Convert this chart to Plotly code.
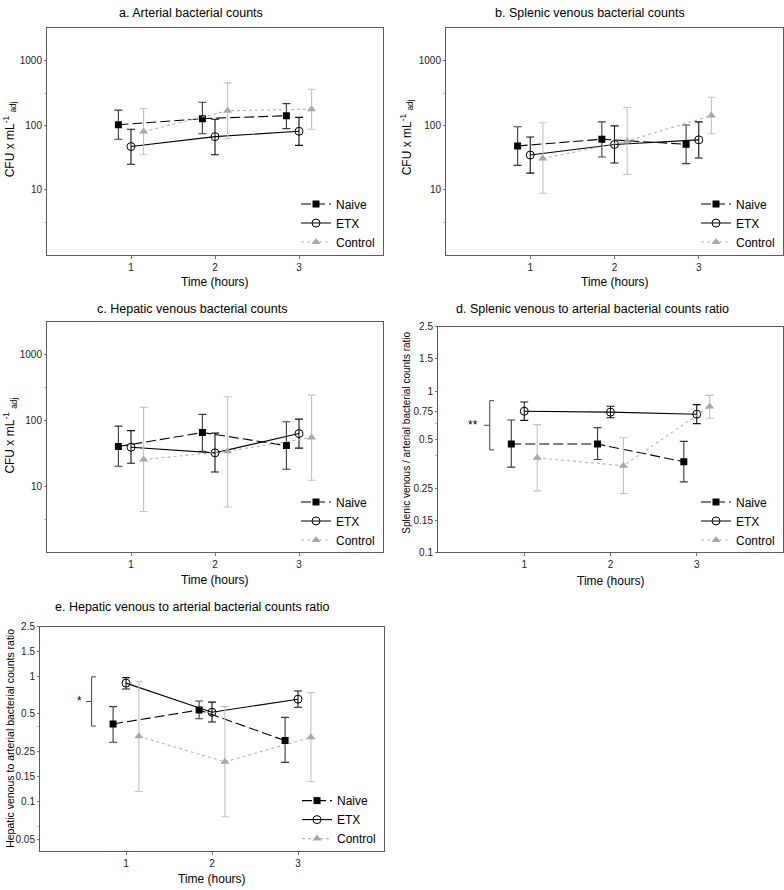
import math
import plotly.graph_objects as go

W, H = 784, 890

TIME = [1, 2, 3]
SERIES = ["Naive", "ETX", "Control"]

# a. Arterial bacterial counts (mean, upper, lower)
A_NAIVE = [102, 127, 141]
A_NAIVE_HI = [172, 228, 217]
A_NAIVE_LO = [61, 74, 89]
A_ETX = [47, 67, 81]
A_ETX_HI = [87, 124, 133]
A_ETX_LO = [25, 35, 49]
A_CTRL = [80, 168, 178]
A_CTRL_HI = [182, 455, 361]
A_CTRL_LO = [35, 62, 87]

# b. Splenic venous bacterial counts
B_NAIVE = [48, 61, 51]
B_NAIVE_HI = [95, 113, 101]
B_NAIVE_LO = [24, 32.4, 25.6]
B_ETX = [34.7, 50.6, 59.7]
B_ETX_HI = [66, 98, 113]
B_ETX_LO = [18.2, 26.2, 31.3]
B_CTRL = [30.6, 57, 142]
B_CTRL_HI = [110, 189, 272]
B_CTRL_LO = [8.9, 17.4, 74]

# c. Hepatic venous bacterial counts
C_NAIVE = [40.6, 66.4, 42]
C_NAIVE_HI = [83, 125, 96.6]
C_NAIVE_LO = [20.4, 34.5, 18.4]
C_ETX = [39.7, 32.6, 64]
C_ETX_HI = [71, 65, 106]
C_ETX_LO = [22.7, 16.7, 38.4]
C_CTRL = [25.8, 34.5, 55.7]
C_CTRL_HI = [160, 232, 245]
C_CTRL_LO = [4.2, 4.9, 12.5]

# d. Splenic venous to arterial ratio
D_NAIVE = [0.47, 0.47, 0.365]
D_NAIVE_HI = [0.662, 0.594, 0.488]
D_NAIVE_LO = [0.338, 0.377, 0.274]
D_ETX = [0.751, 0.741, 0.72]
D_ETX_HI = [0.857, 0.806, 0.825]
D_ETX_LO = [0.659, 0.684, 0.629]
D_CTRL = [0.386, 0.345, 0.802]
D_CTRL_HI = [0.62, 0.514, 0.941]
D_CTRL_LO = [0.241, 0.232, 0.68]

# e. Hepatic venous to arterial ratio
E_NAIVE = [0.416, 0.538, 0.306]
E_NAIVE_HI = [0.572, 0.634, 0.469]
E_NAIVE_LO = [0.297, 0.458, 0.205]
E_ETX = [0.882, 0.516, 0.656]
E_ETX_HI = [0.976, 0.622, 0.763]
E_ETX_LO = [0.791, 0.431, 0.565]
E_CTRL = [0.331, 0.207, 0.325]
E_CTRL_HI = [0.914, 0.572, 0.74]
E_CTRL_LO = [0.12, 0.0754, 0.144]

TITLES = ["a. Arterial bacterial counts",
          "b. Splenic venous bacterial counts",
          "c. Hepatic venous bacterial counts",
          "d. Splenic venous to arterial bacterial counts ratio",
          "e. Hepatic venous to arterial bacterial counts ratio"]
YTITLES = ["CFU x mL<sup>-1</sup> <sub>adj</sub>",
           "CFU x mL<sup>-1</sup> <sub>adj</sub>",
           "CFU x mL<sup>-1</sup> <sub>adj</sub>",
           "Splenic venous / arterial bacterial counts ratio",
           "Hepatic venous to arterial bacterial counts ratio"]
XTITLE = "Time (hours)"

COUNT_TICKS = [10, 100, 1000]
COUNT_TICKTEXT = ["10", "100", "1000"]
D_TICKS = [0.1, 10 ** -0.8, 0.25, 0.5, 0.75, 1, 10 ** 0.2, 2.5]
D_TICKTEXT = ["0.1", "0.15", "0.25", "0.5", "0.75", "1", "1.5", "2.5"]
E_TICKS = [0.05, 0.1, 10 ** -0.8, 0.25, 0.5, 1, 10 ** 0.2, 2.5]
E_TICKTEXT = ["0.05", "0.1", "0.15", "0.25", "0.5", "1", "1.5", "2.5"]

# significance brackets: (top, bottom, label)
D_BRACKET = (0.873, 0.432, "**")
E_BRACKET = (0.99, 0.40, "*")

panels = [
    dict(data=[(A_NAIVE, A_NAIVE_HI, A_NAIVE_LO), (A_ETX, A_ETX_HI, A_ETX_LO), (A_CTRL, A_CTRL_HI, A_CTRL_LO)],
         box=(47, 383, 22.7, 251.7), yrange=[0, 3.5], ticks=(COUNT_TICKS, COUNT_TICKTEXT),
         minor=[10 ** 0.5, 10 ** 2.5], title=(191, 7), ytitle=(10, 135, 12), xtitle_dy=28),
    dict(data=[(B_NAIVE, B_NAIVE_HI, B_NAIVE_LO), (B_ETX, B_ETX_HI, B_ETX_LO), (B_CTRL, B_CTRL_HI, B_CTRL_LO)],
         box=(446, 783, 22.7, 251.7), yrange=[0, 3.5], ticks=(COUNT_TICKS, COUNT_TICKTEXT),
         minor=[10 ** 0.5, 10 ** 2.5], title=(590, 7), ytitle=(407, 133, 12), xtitle_dy=28),
    dict(data=[(C_NAIVE, C_NAIVE_HI, C_NAIVE_LO), (C_ETX, C_ETX_HI, C_ETX_LO), (C_CTRL, C_CTRL_HI, C_CTRL_LO)],
         box=(47, 383, 320, 553.3), yrange=[0, 3.5], ticks=(COUNT_TICKS, COUNT_TICKTEXT),
         minor=[10 ** 0.5, 10 ** 2.5], title=(192, 307), ytitle=(10, 435, 12), xtitle_dy=28),
    dict(data=[(D_NAIVE, D_NAIVE_HI, D_NAIVE_LO), (D_ETX, D_ETX_HI, D_ETX_LO), (D_CTRL, D_CTRL_HI, D_CTRL_LO)],
         box=(438, 783, 325, 553.3), yrange=[-1, math.log10(2.5)], ticks=(D_TICKS, D_TICKTEXT),
         minor=[10 ** -0.4, 10 ** -0.2], title=(592, 307), ytitle=(407, 432, 10), xtitle_dy=29,
         bracket=D_BRACKET, star_x=0.41),
    dict(data=[(E_NAIVE, E_NAIVE_HI, E_NAIVE_LO), (E_ETX, E_ETX_HI, E_ETX_LO), (E_CTRL, E_CTRL_HI, E_CTRL_LO)],
         box=(40, 384, 628.3, 855.7), yrange=[math.log10(0.04), math.log10(2.5)], ticks=(E_TICKS, E_TICKTEXT),
         minor=[10 ** -1.2, 10 ** -0.4], title=(192, 609), ytitle=(10, 742, 10.5), xtitle_dy=28,
         bracket=E_BRACKET, star_x=0.455),
]

OFFSETS = [-0.15, 0.0, 0.15]
STYLES = [
    dict(marker=dict(symbol="square", size=7, color="black"),
         line=dict(color="black", width=1.1, dash="10px,4px"), err="#3a3a3a"),
    dict(marker=dict(symbol="circle-open", size=8, color="black", line=dict(width=1)),
         line=dict(color="black", width=1.1), err="#111111"),
    dict(marker=dict(symbol="triangle-up", size=8, color="#a8a8a8"),
         line=dict(color="#b5b5b5", width=1.1, dash="dot"), err="#c4c4c4"),
]

FONT = "Liberation Sans, Arial, sans-serif"
fig = go.Figure()
layout = dict(width=W, height=H, margin=dict(l=0, r=0, t=0, b=0),
              paper_bgcolor="white", plot_bgcolor="white",
              font=dict(family=FONT, color="black"), showlegend=True)
annotations = []

for i, p in enumerate(panels):
    n = "" if i == 0 else str(i + 1)
    xa, ya = "x" + n, "y" + n
    legname = "legend" + n
    x0, x1, yt, yb = p["box"]
    for j, (vals, hi, lo) in enumerate(p["data"]):
        st = STYLES[j]
        fig.add_trace(go.Scatter(
            x=[t + OFFSETS[j] for t in TIME], y=vals, name=SERIES[j],
            mode="lines+markers", marker=st["marker"], line=st["line"],
            error_y=dict(type="data", symmetric=False,
                         array=[h - v for h, v in zip(hi, vals)],
                         arrayminus=[v - l for v, l in zip(vals, lo)],
                         color=st["err"], thickness=1.1, width=4),
            xaxis=xa, yaxis=ya, legend=legname, showlegend=True))
    layout["xaxis" + n] = dict(domain=[x0 / W, x1 / W], anchor=ya, range=[0, 4],
                               tickvals=TIME, ticktext=[str(t) for t in TIME],
                               ticks="outside", ticklen=3, tickcolor="#777",
                               showline=True, mirror=True, linecolor="#5a5a5a", linewidth=1,
                               showgrid=False, zeroline=False,
                               tickfont=dict(size=10, family=FONT, color="#222"))
    tv, tt = p["ticks"]
    layout["yaxis" + n] = dict(domain=[1 - yb / H, 1 - yt / H], anchor=xa, type="log",
                               range=p["yrange"], tickmode="array", tickvals=tv, ticktext=tt,
                               ticks="outside", ticklen=2, tickcolor="#777",
                               minor=dict(tickmode="array", tickvals=p["minor"], ticks="outside",
                                          ticklen=2, tickcolor="#bbb", showgrid=False),
                               showline=True, mirror=True, linecolor="#5a5a5a", linewidth=1,
                               showgrid=False, zeroline=False,
                               tickfont=dict(size=10, family=FONT, color="#222"))
    layout[legname] = dict(x=(x1 - 3) / W, y=1 - (yb + 2) / H, xanchor="right", yanchor="bottom",
                           bgcolor="rgba(0,0,0,0)", font=dict(size=12, family=FONT),
                           tracegroupgap=0, itemwidth=30)
    # panel title
    tx, ty = p["title"]
    annotations.append(dict(text=TITLES[i], x=tx / W, y=1 - ty / H, xref="paper", yref="paper",
                            showarrow=False, xanchor="center", yanchor="middle",
                            font=dict(size=12.5, family=FONT)))
    # x title
    annotations.append(dict(text=XTITLE, x=(x0 + x1) / 2 / W, y=1 - (yb + p["xtitle_dy"]) / H,
                            xref="paper", yref="paper", showarrow=False,
                            xanchor="center", yanchor="middle", font=dict(size=12, family=FONT)))
    # y title
    yx, yy, ys = p["ytitle"]
    annotations.append(dict(text=YTITLES[i], x=yx / W, y=1 - yy / H, xref="paper", yref="paper",
                            showarrow=False, textangle=-90, xanchor="center", yanchor="middle",
                            font=dict(size=ys, family=FONT)))
    if "bracket" in p:
        top, bot, lab = p["bracket"]
        mid = math.sqrt(top * bot)
        bx = 0.6
        fig.add_trace(go.Scatter(
            x=[bx + 0.05, bx, bx, bx + 0.05, None, bx - 0.065, bx],
            y=[top, top, bot, bot, None, mid, mid],
            mode="lines", line=dict(color="#444", width=1), showlegend=False,
            hoverinfo="skip", xaxis=xa, yaxis=ya))
        annotations.append(dict(text=lab, x=p["star_x"], y=math.log10(mid), xref=xa, yref=ya,
                                showarrow=False, xanchor="center", yanchor="middle",
                                font=dict(size=12, family=FONT)))

layout["annotations"] = annotations
fig.update_layout(**layout)
fig.write_html("out.html")
